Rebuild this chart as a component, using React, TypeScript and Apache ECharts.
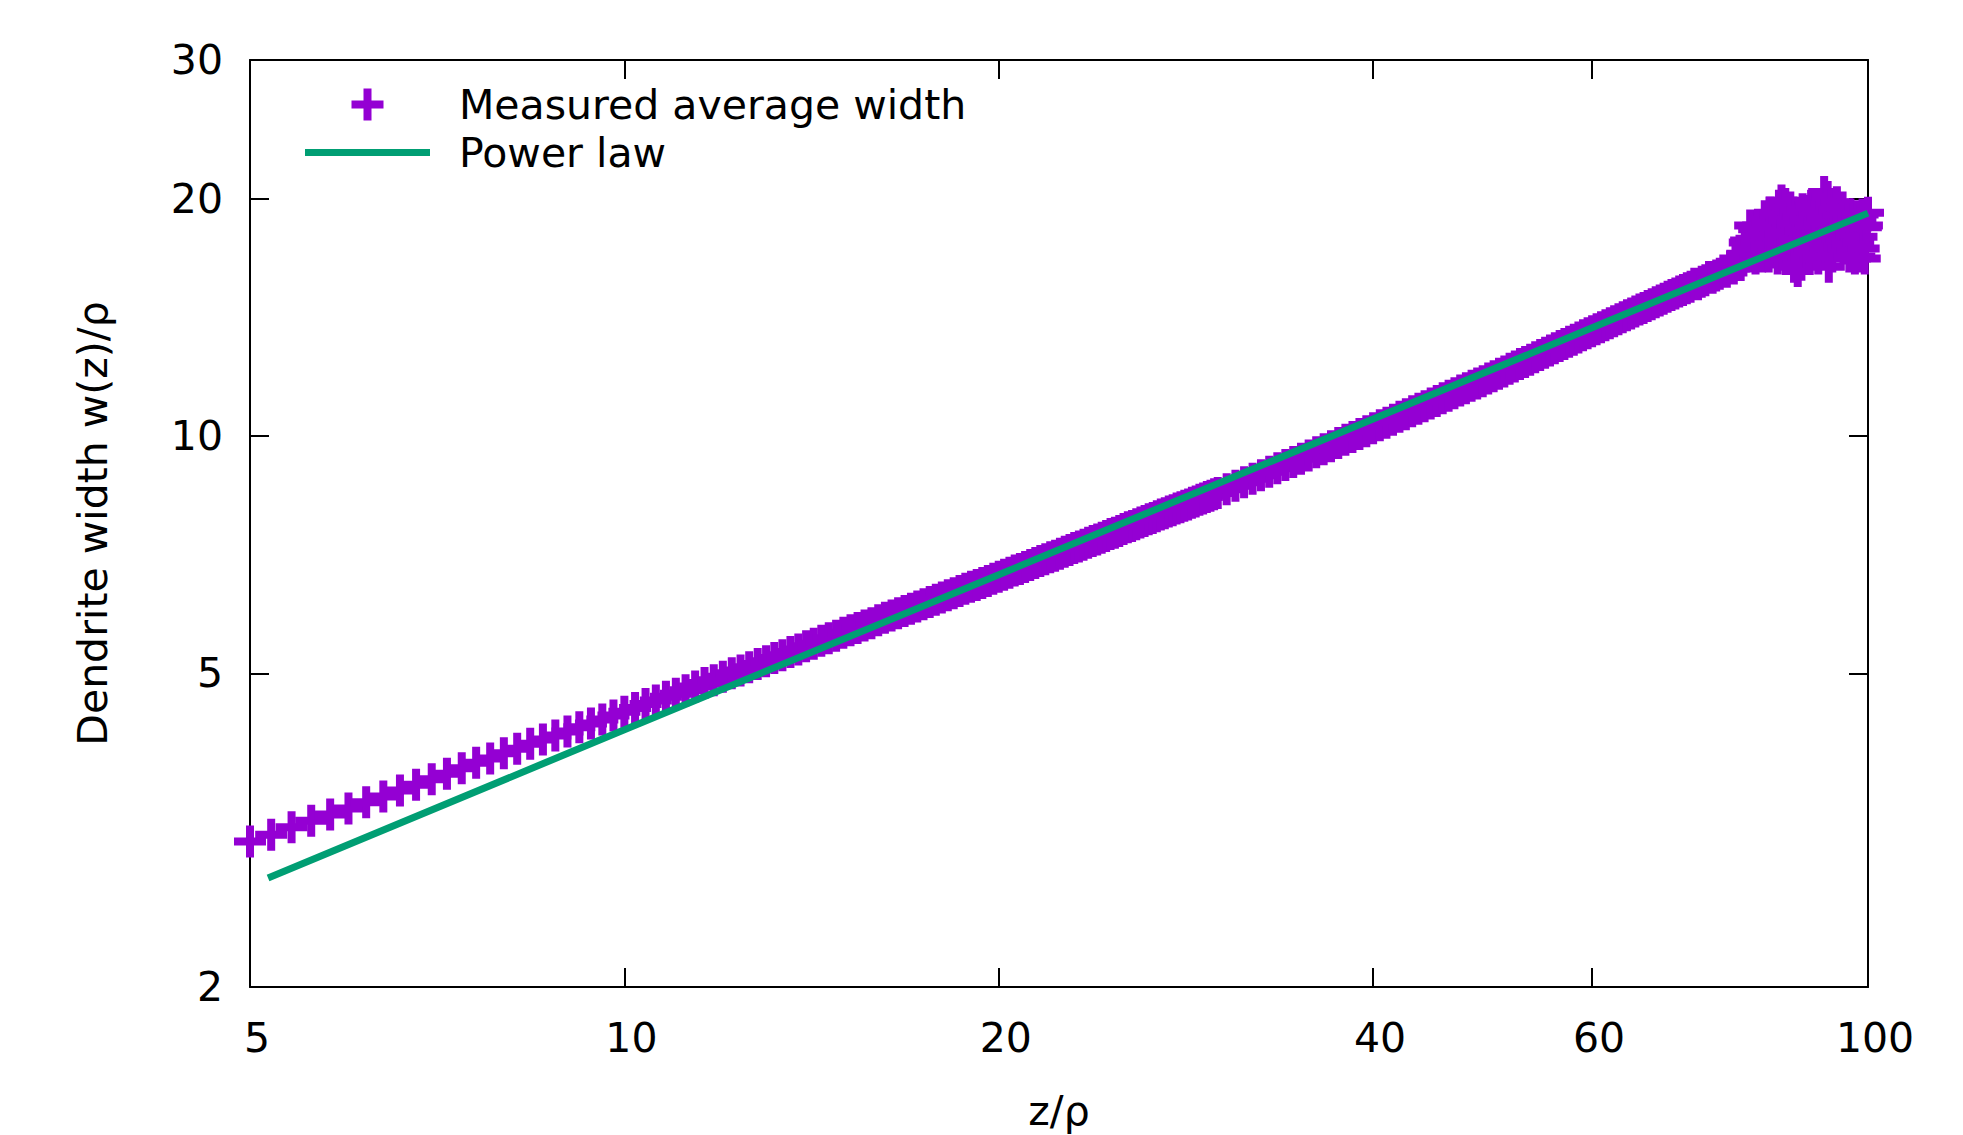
import React, { useEffect, useRef } from "react";
import * as echarts from "echarts";

// Measured average width, segment A (z/rho from 5 to 30, every 0.2)
const zSegA = [5, 5.2, 5.4, 5.6, 5.8, 6, 6.2, 6.4, 6.6, 6.8, 7, 7.2, 7.4, 7.6, 7.8, 8, 8.2, 8.4, 8.6, 8.8, 9, 9.2, 9.4, 9.6, 9.8, 10, 10.2, 10.4, 10.6, 10.8, 11, 11.2, 11.4, 11.6, 11.8, 12, 12.2, 12.4, 12.6, 12.8, 13, 13.2, 13.4, 13.6, 13.8, 14, 14.2, 14.4, 14.6, 14.8, 15, 15.2, 15.4, 15.6, 15.8, 16, 16.2, 16.4, 16.6, 16.8, 17, 17.2, 17.4, 17.6, 17.8, 18, 18.2, 18.4, 18.6, 18.8, 19, 19.2, 19.4, 19.6, 19.8, 20, 20.2, 20.4, 20.6, 20.8, 21, 21.2, 21.4, 21.6, 21.8, 22, 22.2, 22.4, 22.6, 22.8, 23, 23.2, 23.4, 23.6, 23.8, 24, 24.2, 24.4, 24.6, 24.8, 25, 25.2, 25.4, 25.6, 25.8, 26, 26.2, 26.4, 26.6, 26.8, 27, 27.2, 27.4, 27.6, 27.8, 28, 28.2, 28.4, 28.6, 28.8, 29, 29.2, 29.4, 29.6, 29.8, 30];
const wSegA = [3.06, 3.12, 3.19, 3.25, 3.31, 3.37, 3.43, 3.49, 3.55, 3.61, 3.67, 3.73, 3.79, 3.85, 3.9, 3.96, 4.01, 4.07, 4.12, 4.17, 4.22, 4.27, 4.32, 4.37, 4.42, 4.47, 4.52, 4.57, 4.62, 4.67, 4.71, 4.76, 4.81, 4.86, 4.9, 4.95, 5.0, 5.04, 5.09, 5.14, 5.18, 5.23, 5.27, 5.32, 5.36, 5.41, 5.45, 5.5, 5.54, 5.58, 5.63, 5.67, 5.71, 5.75, 5.79, 5.84, 5.88, 5.92, 5.96, 6.0, 6.04, 6.08, 6.12, 6.16, 6.2, 6.24, 6.28, 6.32, 6.36, 6.4, 6.44, 6.47, 6.51, 6.55, 6.59, 6.63, 6.67, 6.71, 6.75, 6.78, 6.82, 6.86, 6.9, 6.94, 6.98, 7.02, 7.05, 7.09, 7.13, 7.17, 7.21, 7.24, 7.28, 7.32, 7.36, 7.39, 7.43, 7.47, 7.51, 7.54, 7.58, 7.62, 7.66, 7.69, 7.73, 7.77, 7.8, 7.84, 7.87, 7.91, 7.95, 7.98, 8.02, 8.05, 8.09, 8.12, 8.16, 8.19, 8.23, 8.26, 8.3, 8.33, 8.37, 8.4, 8.44, 8.47];

// Segment B (30.5 to 79, every 0.5)
const zSegB = [30.5, 31, 31.5, 32, 32.5, 33, 33.5, 34, 34.5, 35, 35.5, 36, 36.5, 37, 37.5, 38, 38.5, 39, 39.5, 40, 40.5, 41, 41.5, 42, 42.5, 43, 43.5, 44, 44.5, 45, 45.5, 46, 46.5, 47, 47.5, 48, 48.5, 49, 49.5, 50, 50.5, 51, 51.5, 52, 52.5, 53, 53.5, 54, 54.5, 55, 55.5, 56, 56.5, 57, 57.5, 58, 58.5, 59, 59.5, 60, 60.5, 61, 61.5, 62, 62.5, 63, 63.5, 64, 64.5, 65, 65.5, 66, 66.5, 67, 67.5, 68, 68.5, 69, 69.5, 70, 70.5, 71, 71.5, 72, 72.5, 73, 73.5, 74, 74.5, 75, 75.5, 76, 76.5, 77, 77.5, 78, 78.5, 79];
const wSegB = [8.56, 8.65, 8.74, 8.83, 8.92, 9.01, 9.1, 9.19, 9.27, 9.36, 9.45, 9.54, 9.62, 9.71, 9.8, 9.89, 9.97, 10.06, 10.14, 10.23, 10.32, 10.4, 10.49, 10.58, 10.66, 10.75, 10.83, 10.91, 11.0, 11.08, 11.17, 11.25, 11.33, 11.42, 11.5, 11.58, 11.66, 11.74, 11.83, 11.91, 12.0, 12.08, 12.17, 12.25, 12.34, 12.42, 12.5, 12.59, 12.67, 12.76, 12.84, 12.92, 13.01, 13.09, 13.17, 13.25, 13.34, 13.42, 13.5, 13.58, 13.66, 13.74, 13.82, 13.9, 13.99, 14.07, 14.15, 14.23, 14.31, 14.39, 14.47, 14.54, 14.62, 14.7, 14.78, 14.86, 14.94, 15.02, 15.1, 15.17, 15.25, 15.32, 15.4, 15.47, 15.6, 15.58, 15.7, 15.77, 15.92, 15.88, 15.99, 16.07, 16.22, 16.16, 16.45, 16.32, 16.58, 16.48];

// Segment C (noisy tail, 79.2 to 100, every 0.2)
const zSegC = [79.2, 79.4, 79.6, 79.8, 80, 80.2, 80.4, 80.6, 80.8, 81, 81.2, 81.4, 81.6, 81.8, 82, 82.2, 82.4, 82.6, 82.8, 83, 83.2, 83.4, 83.6, 83.8, 84, 84.2, 84.4, 84.6, 84.8, 85, 85.2, 85.4, 85.6, 85.8, 86, 86.2, 86.4, 86.6, 86.8, 87, 87.2, 87.4, 87.6, 87.8, 88, 88.2, 88.4, 88.6, 88.8, 89, 89.2, 89.4, 89.6, 89.8, 90, 90.2, 90.4, 90.6, 90.8, 91, 91.2, 91.4, 91.6, 91.8, 92, 92.2, 92.4, 92.6, 92.8, 93, 93.2, 93.4, 93.6, 93.8, 94, 94.2, 94.4, 94.6, 94.8, 95, 95.2, 95.4, 95.6, 95.8, 96, 96.2, 96.4, 96.6, 96.8, 97, 97.2, 97.4, 97.6, 97.8, 98, 98.2, 98.4, 98.6, 98.8, 99, 99.2, 99.4, 99.6, 99.8, 100];
const wSegC = [17.0, 16.7, 17.6, 17.7, 17.3, 16.9, 18.5, 17.8, 17.1, 18.3, 16.8, 17.6, 18.5, 17.2, 18.0, 16.9, 18.4, 19.0, 17.4, 18.7, 16.9, 19.2, 17.9, 18.5, 17.1, 19.1, 18.2, 16.8, 19.6, 18.0, 19.9, 17.3, 18.8, 19.7, 16.9, 19.3, 18.1, 19.5, 17.0, 18.6, 16.4, 19.2, 17.7, 16.2, 19.0, 18.2, 16.5, 19.4, 17.5, 18.8, 17.1, 19.3, 18.0, 17.3, 19.6, 18.5, 17.2, 19.1, 17.9, 19.5, 16.8, 18.7, 19.2, 17.6, 18.9, 20.4, 17.3, 19.8, 20.1, 16.4, 18.6, 19.6, 16.9, 18.1, 19.4, 17.4, 19.8, 18.3, 17.4, 19.1, 17.8, 19.5, 17.3, 18.5, 19.0, 17.5, 18.8, 16.9, 19.1, 18.0, 17.2, 18.9, 16.8, 18.4, 19.0, 17.6, 16.9, 18.7, 17.9, 19.1, 17.3, 16.8, 18.4, 18.5, 19.2];

// Power law fit
const zPow = [5.17, 10, 20, 40, 60, 100];
const wPow = [2.75, 4.24, 6.67, 10.51, 13.72, 19.18];

// Tick values
const xTicks = [5, 10, 20, 40, 60, 100];
const yTicks = [2, 5, 10, 20, 30];

const FONT = "DejaVu Sans";
const CROSS = "path://M3 0H5V3H8V5H5V8H3V5H0V3H3Z";
const BAR = "path://M0 0H125V7H0Z";
const PURPLE = "#9400d3";
const GREEN = "#009e73";

function pairs(zs: number[], ws: number[]) {
  const n = Math.min(zs.length, ws.length);
  const out: number[][] = [];
  for (let i = 0; i < n; i++) out.push([zs[i], ws[i]]);
  return out;
}

export default function App() {
  const ref = useRef<HTMLDivElement>(null);
  useEffect(() => {
    const chart = echarts.init(ref.current!, null, { renderer: "svg" });
    const measured = [...pairs(zSegA, wSegA), ...pairs(zSegB, wSegB), ...pairs(zSegC, wSegC)];
    const power = pairs(zPow, wPow);
    const axisLine = { show: true, onZero: false, lineStyle: { color: "#000", width: 2 } };
    const tick = (vals: number[]) => ({
      show: true,
      inside: true,
      length: 19,
      lineStyle: { color: "#000", width: 2 },
      customValues: vals,
    });
    const labelStyle = { fontSize: 41, color: "#000", fontFamily: FONT };
    const fmt = (v: number) => String(Math.round(v));
    chart.setOption({
      animation: false,
      backgroundColor: "#ffffff",
      grid: { left: 250, right: 95, top: 60, bottom: 148, containLabel: false, outerBoundsMode: "none" },
      legend: {
        orient: "vertical",
        left: 300,
        top: 79,
        itemWidth: 125,
        itemHeight: 32,
        itemGap: 7,
        selectedMode: false,
        symbolKeepAspect: true,
        textStyle: { ...labelStyle, padding: [0, 0, 0, 24] },
        data: [
          { name: "Measured average width", icon: CROSS, itemStyle: { color: PURPLE, opacity: 1 } },
          { name: "Power law", icon: BAR, itemStyle: { color: GREEN, opacity: 1, borderWidth: 0 } },
        ],
      },
      xAxis: [
        {
          type: "log",
          logBase: 10,
          min: 5,
          max: 100,
          position: "bottom",
          name: "z/ρ",
          nameLocation: "middle",
          nameGap: 103,
          nameTextStyle: labelStyle,
          axisLine,
          axisTick: tick(xTicks),
          minorTick: { show: false },
          axisLabel: { ...labelStyle, customValues: xTicks, formatter: fmt, margin: 30, padding: [0, 0, 0, 14] },
          splitLine: { show: false },
        },
        {
          type: "log",
          logBase: 10,
          min: 5,
          max: 100,
          position: "top",
          axisLine,
          axisTick: tick(xTicks),
          minorTick: { show: false },
          axisLabel: { show: false },
          splitLine: { show: false },
        },
      ],
      yAxis: [
        {
          type: "log",
          logBase: 10,
          min: 2,
          max: 30,
          position: "left",
          name: "Dendrite width w(z)/ρ",
          nameLocation: "middle",
          nameGap: 137,
          nameTextStyle: labelStyle,
          axisLine,
          axisTick: tick(yTicks),
          minorTick: { show: false },
          axisLabel: { ...labelStyle, customValues: yTicks, formatter: fmt, margin: 27 },
          splitLine: { show: false },
        },
        {
          type: "log",
          logBase: 10,
          min: 2,
          max: 30,
          position: "right",
          axisLine,
          axisTick: tick(yTicks),
          minorTick: { show: false },
          axisLabel: { show: false },
          splitLine: { show: false },
        },
      ],
      series: [
        {
          type: "scatter",
          name: "Measured average width",
          data: measured,
          xAxisIndex: 0,
          yAxisIndex: 0,
          symbol: CROSS,
          symbolSize: 32,
          itemStyle: { color: PURPLE, opacity: 1 },
          clip: false,
          z: 2,
        },
        {
          type: "line",
          name: "Power law",
          data: power,
          xAxisIndex: 0,
          yAxisIndex: 0,
          symbol: "none",
          smooth: false,
          lineStyle: { color: GREEN, width: 7 },
          itemStyle: { color: GREEN },
          clip: false,
          z: 3,
        },
      ],
    });
    return () => chart.dispose();
  }, []);
  return (
    <div
      ref={ref}
      style={{ position: "absolute", left: 0, top: 0, width: 1963, height: 1135, background: "#fff" }}
    />
  );
}
